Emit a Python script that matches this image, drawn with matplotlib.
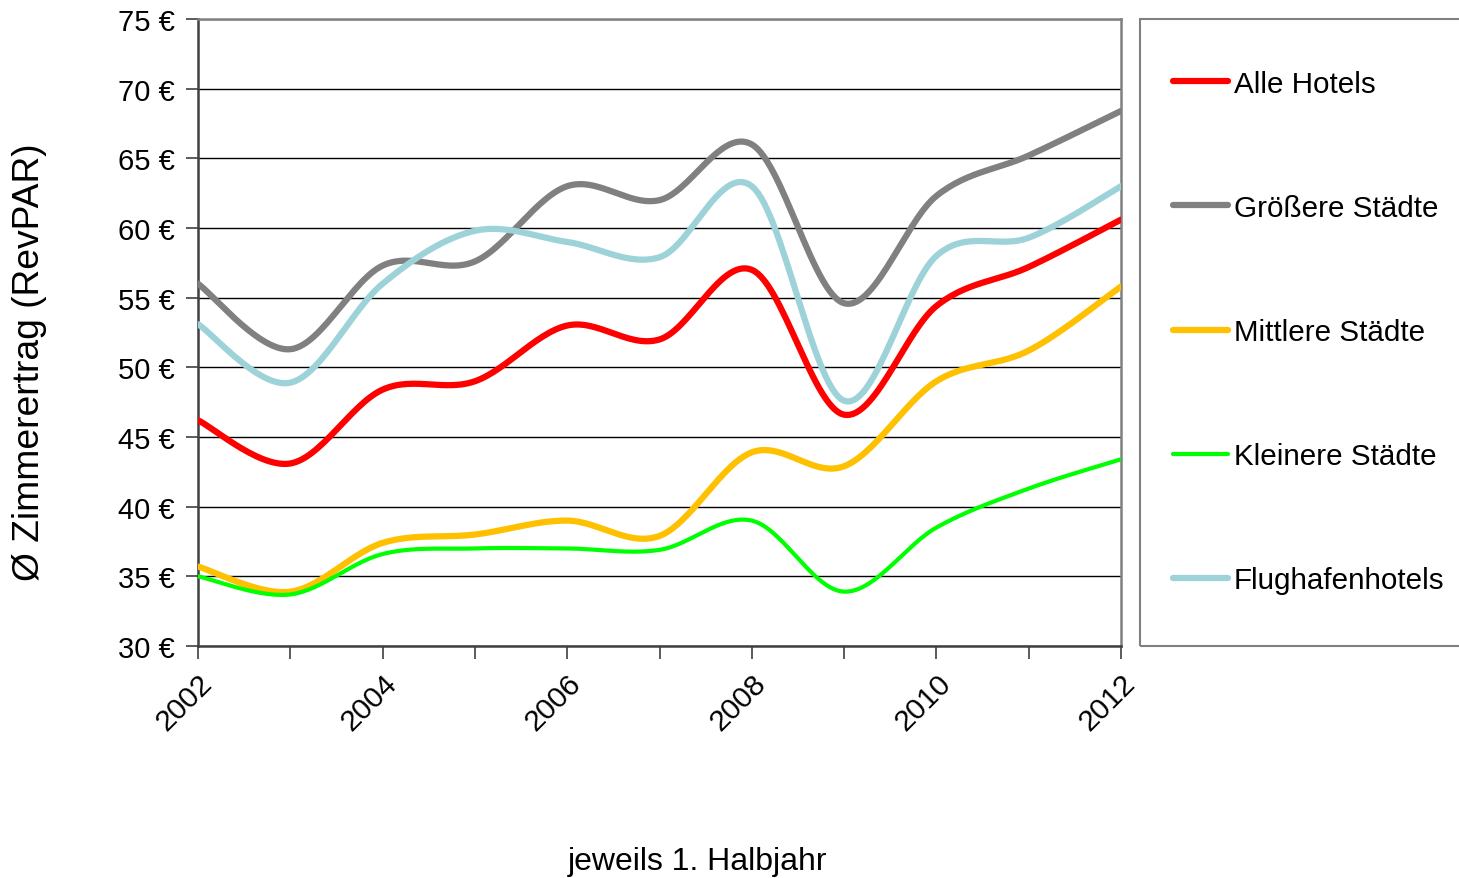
import numpy as np
import matplotlib.pyplot as plt
from matplotlib.patches import Rectangle

plt.rcParams['font.family'] = ['Liberation Sans', 'DejaVu Sans']

# RevPAR, first half of each year
years = np.arange(2002, 2013)
alle_hotels = [46.2, 43.1, 48.4, 49.0, 53.0, 52.0, 57.0, 46.6, 54.4, 57.2, 60.6]
groessere = [56.0, 51.3, 57.3, 57.6, 63.0, 62.0, 66.0, 54.6, 62.3, 65.2, 68.4]
mittlere = [35.7, 33.9, 37.4, 38.0, 39.0, 37.9, 43.9, 42.9, 49.0, 51.2, 55.8]
kleinere = [35.0, 33.7, 36.6, 37.0, 37.0, 36.9, 39.0, 33.9, 38.5, 41.3, 43.4]
flughafen = [53.1, 48.9, 56.0, 59.8, 59.0, 57.9, 63.0, 47.6, 58.0, 59.3, 63.0]

series = [
    ('Alle Hotels', alle_hotels, '#ff0000', 4.5),
    ('Größere Städte', groessere, '#808080', 4.5),
    ('Mittlere Städte', mittlere, '#ffc000', 4.5),
    ('Kleinere Städte', kleinere, '#00ff00', 3.0),
    ('Flughafenhotels', flughafen, '#9dd3d8', 4.5),
]


def smooth(x, y, n=30):
    # Catmull-Rom curve through the points (spreadsheet-style smoothed line)
    x = np.asarray(x, float)
    y = np.asarray(y, float)
    px = np.concatenate([[x[0]], x, [x[-1]]])
    py = np.concatenate([[y[0]], y, [y[-1]]])
    t = np.linspace(0, 1, n, endpoint=False)
    xs, ys = [], []
    for i in range(1, len(px) - 2):
        for p, out in ((px, xs), (py, ys)):
            p0, p1, p2, p3 = p[i - 1], p[i], p[i + 1], p[i + 2]
            c1 = p1 + (p2 - p0) / 6
            c2 = p2 - (p3 - p1) / 6
            out.extend((1 - t) ** 3 * p1 + 3 * (1 - t) ** 2 * t * c1
                       + 3 * (1 - t) * t ** 2 * c2 + t ** 3 * p2)
    xs.append(x[-1])
    ys.append(y[-1])
    return np.array(xs), np.array(ys)


fig = plt.figure(figsize=(14.59, 8.79), dpi=100)
ax = fig.add_axes([198 / 1459, 1 - 647 / 879, 923 / 1459, 627 / 879])

for label, vals, color, lw in series:
    sx, sy = smooth(years, vals)
    ax.plot(sx, sy, color=color, lw=lw, label=label,
            solid_capstyle='round', solid_joinstyle='round', zorder=3)

ax.set_xlim(2002, 2012)
ax.set_ylim(30, 75)
ax.set_yticks(np.arange(30, 76, 5))
ax.set_yticklabels([f'{v} €' for v in range(30, 76, 5)], fontsize=21)
ax.set_xticks(years)
ax.set_xticklabels([str(y) if y % 2 == 0 else '' for y in years],
                   fontsize=21.5, rotation=45, ha='right', va='top',
                   rotation_mode='anchor')
ax.tick_params(axis='x', length=9, width=1.2, color='#404040', pad=7)
ax.tick_params(axis='y', length=9, width=1.2, color='#404040', pad=8)

ax.yaxis.grid(True, color='black', lw=1.0)
ax.set_axisbelow(True)
for side in ('left', 'bottom'):
    ax.spines[side].set_color('#404040')
    ax.spines[side].set_linewidth(1.8)
for side in ('top', 'right'):
    ax.spines[side].set_color('#808080')
    ax.spines[side].set_linewidth(1.8)

fig.text(30 / 1459, 1 - 362 / 879, 'Ø Zimmerertrag (RevPAR)', rotation=90,
         fontsize=26.8, ha='center', va='center')
fig.text(698 / 1459, 1 - 862 / 879, 'jeweils 1. Halbjahr', fontsize=23,
         ha='center', va='center')

# legend frame runs off the right edge
fig.patches.append(Rectangle((1140 / 1459, 1 - 647 / 879), 0.3, 627 / 879,
                             transform=fig.transFigure, fill=False,
                             edgecolor='#808080', lw=1.5))
fig.legend(loc='center left', bbox_to_anchor=(1173 / 1459, 1 - 333 / 879),
           frameon=False, fontsize=21.3, labelspacing=3.25, handlelength=1.85,
           handletextpad=0.2, borderpad=0, borderaxespad=0)

fig.savefig('out.png', dpi=100)
